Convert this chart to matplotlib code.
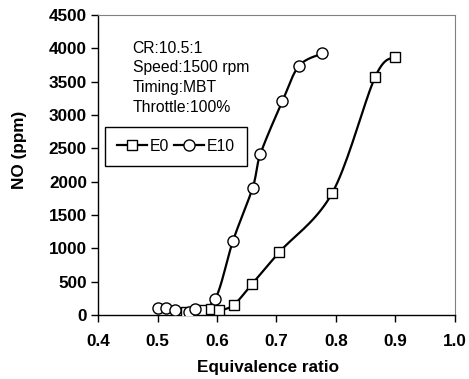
import numpy as np
import matplotlib
matplotlib.use("Agg")
import matplotlib.pyplot as plt

plt.rcParams["font.family"] = ["Liberation Sans", "DejaVu Sans"]

# --- donnees ---
phi_e0 = [0.548, 0.575, 0.590, 0.603, 0.628, 0.659, 0.705, 0.794, 0.866, 0.899]
no_e0 = [50, 80, 90, 70, 150, 465, 945, 1835, 3575, 3875]

phi_e10 = [0.501, 0.515, 0.530, 0.553, 0.563, 0.597, 0.627, 0.660, 0.673, 0.710, 0.738, 0.777]
no_e10 = [100, 100, 75, 50, 85, 240, 1115, 1910, 2415, 3210, 3740, 3925]

x_ticks = [0.4, 0.5, 0.6, 0.7, 0.8, 0.9, 1.0]
y_ticks = list(range(0, 4501, 500))
conditions = ["CR:10.5:1", "Speed:1500 rpm", "Timing:MBT", "Throttle:100%"]


def smooth(x, y, n=20):
    # courbe lissee type Excel (Catmull-Rom)
    x = np.asarray(x, float)
    y = np.asarray(y, float)
    px = np.concatenate([[x[0]], x, [x[-1]]])
    py = np.concatenate([[y[0]], y, [y[-1]]])
    xs, ys = [], []
    t = np.linspace(0, 1, n)
    for i in range(1, len(px) - 2):
        for p, out in ((px, xs), (py, ys)):
            p0, p1, p2, p3 = p[i - 1], p[i], p[i + 1], p[i + 2]
            out.extend(0.5 * ((2 * p1) + (-p0 + p2) * t
                              + (2 * p0 - 5 * p1 + 4 * p2 - p3) * t**2
                              + (-p0 + 3 * p1 - 3 * p2 + p3) * t**3))
    return np.array(xs), np.array(ys)


fig = plt.figure(figsize=(4.69, 3.79), dpi=100)
ax = fig.add_axes([0.209, 0.169, 0.761, 0.791])

for xs, ys, m, ms in ((phi_e0, no_e0, "s", 7), (phi_e10, no_e10, "o", 8)):
    sx, sy = smooth(xs, ys)
    ax.plot(sx, sy, color="black", lw=1.6, zorder=2)
    ax.plot(xs, ys, ls="none", marker=m, ms=ms, mfc="white", mec="black",
            mew=1.0, zorder=3)

# entrees de legende
h0, = ax.plot([], [], color="black", lw=1.6, marker="s", ms=7, mfc="white", mec="black", mew=1.0)
h1, = ax.plot([], [], color="black", lw=1.6, marker="o", ms=8, mfc="white", mec="black", mew=1.0)
leg = ax.legend([h0, h1], ["E0", "E10"], loc="upper left", bbox_to_anchor=(0.02, 0.627),
                ncol=2, frameon=True, fancybox=False, edgecolor="black", framealpha=1,
                handlelength=1.9, handletextpad=0.2, columnspacing=0.3,
                borderpad=0.75, borderaxespad=0, fontsize=11.3)
leg.get_frame().set_linewidth(1.0)

for i, txt in enumerate(conditions):
    ax.text(0.097, 0.915 - i * 0.066, txt, transform=ax.transAxes, fontsize=11.3,
            va="top", ha="left")

ax.set_xlim(0.4, 1.0)
ax.set_ylim(0, 4500)
ax.set_xticks(x_ticks)
ax.set_xticklabels([f"{v:.1f}" for v in x_ticks])
ax.set_yticks(y_ticks)
ax.tick_params(direction="out", length=5, width=1, labelsize=12.3)
ax.tick_params(axis="x", pad=9)
ax.tick_params(axis="y", pad=3)
for lab in ax.get_xticklabels() + ax.get_yticklabels():
    lab.set_fontweight("bold")

ax.set_xlabel("Equivalence ratio", fontsize=12.3, fontweight="bold")
ax.set_ylabel("NO (ppm)", fontsize=12.3, fontweight="bold")
ax.xaxis.set_label_coords(0.476, -0.15)
ax.yaxis.set_label_coords(-0.2, 0.55)

for s in ("top", "right"):
    ax.spines[s].set_color("#808080")
for s in ("left", "bottom"):
    ax.spines[s].set_color("black")
    ax.spines[s].set_linewidth(1.0)

fig.savefig("out.png", dpi=100)
